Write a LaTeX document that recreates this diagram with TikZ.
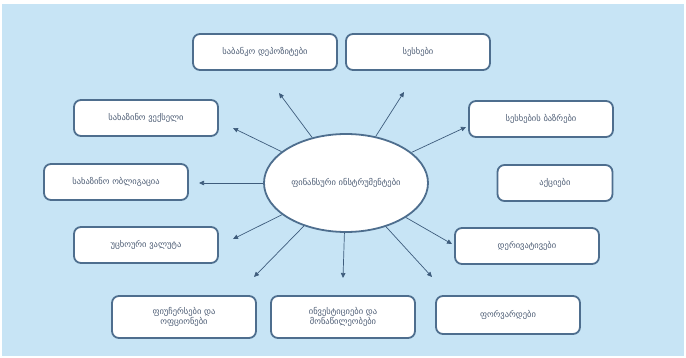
\documentclass[tikz,border=0pt]{standalone}
\usepackage{fontspec}
\newfontfamily\geofont{DejaVu Sans}
\usetikzlibrary{arrows.meta, shapes.geometric}
\definecolor{bgblue}{HTML}{C7E4F5}
\definecolor{edgeblue}{HTML}{4E6E8E}
\definecolor{arrowblue}{HTML}{3E5C7C}
\definecolor{txtgray}{HTML}{4C5C74}
\tikzset{
  item/.style={draw=edgeblue, line width=1.8pt, fill=white, rounded corners=7pt,
    minimum width=144pt, minimum height=36pt, align=center, text=txtgray,
    font=\geofont\fontsize{8.5}{9.5}\selectfont},
  hub/.style={ellipse, draw=edgeblue, line width=1.8pt, fill=white,
    minimum width=164pt, minimum height=98pt, text=txtgray,
    font=\geofont\fontsize{8.5}{9.5}\selectfont},
  link/.style={-{Triangle[length=5pt,width=4.5pt]}, draw=arrowblue, line width=0.7pt}
}

\begin{document}
\begin{tikzpicture}[x=1pt, y=-1pt]
\useasboundingbox (0,0) rectangle (686,358);
\fill[bgblue] (2,4) rectangle (684,356);

% centre
\node[hub] (fin) at (346,183) {ფინანსური ინსტრუმენტები};

% boxes, top and left side
\node[item] (dep) at (265,52) {საბანკო დეპოზიტები};
\node[item] (loan) at (418,52) {სესხები};
\node[item] (bill) at (146,118) {სახაზინო ვექსელი};
\node[item] (bond) at (116,182) {სახაზინო ობლიგაცია};
\node[item] (cash) at (146,245) {უცხოური ვალუტა};
% right side
\node[item] (mkt) at (541,119) {სესხების ბაზრები};
\node[item, minimum width=115pt] (shr) at (555,183) {აქციები};
\node[item] (deriv) at (527,246) {დერივატივები};
% bottom row
\node[item, minimum height=42pt] (fut) at (184,317) {ფიუჩერსები და\\ოფციონები};
\node[item, minimum height=42pt] (inv) at (343,317) {ინვესტიციები და\\მონაწილეობები};
\node[item, minimum height=38pt] (fwd) at (508,315) {ფორვარდები};

% arrow tips
\coordinate (tdep) at (279,93);
\coordinate (tloan) at (404,92);
\coordinate (tbill) at (233,128);
\coordinate (tbond) at (199,183);
\coordinate (tcash) at (233,239);
\coordinate (tmkt) at (466,127);
\coordinate (tderiv) at (452,244);
\coordinate (tfut) at (254,277);
\coordinate (tinv) at (343,278);
\coordinate (tfwd) at (432,277);

\foreach \t in {tdep,tloan,tbill,tbond,tcash,tmkt,tderiv,tfut,tinv,tfwd}
  \draw[link] (fin) -- (\t);
\end{tikzpicture}
\end{document}
